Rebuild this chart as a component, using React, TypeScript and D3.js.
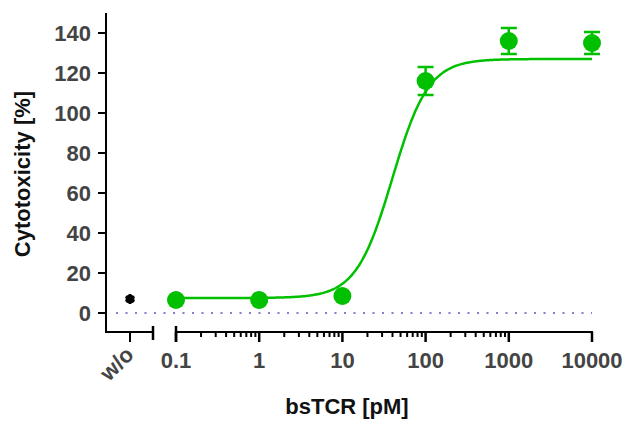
import React, { useRef, useEffect } from 'react';
import * as d3 from 'd3';

const concentrations = [0.1, 1, 10, 100, 1000, 10000];
const cytotoxicity = [6.5, 6.5, 8.5, 116, 136, 135];
const errors = [1, 1, 1, 7, 6.5, 5.5];
const controlLabel = 'w/o';
const controlValue = 7;
const xTickLabels = ['0.1', '1', '10', '100', '1000', '10000'];
const yTicks = [0, 20, 40, 60, 80, 100, 120, 140];

// 4-parameter logistic fit
const fitBottom = 7.5;
const fitTop = 127;
const fitLogEC50 = 1.6;
const fitHill = 2.0;

const W = 626;
const H = 422;
const green = '#00c000';
const textColor = '#444444';

const App = () => {
  const svgRef = useRef<SVGSVGElement>(null);

  useEffect(() => {
    const svg = d3.select(svgRef.current);
    svg.selectAll('*').remove();

    const xScale = d3.scaleLog().domain([0.1, 10000]).range([176, 592]);
    const xCtrl = d3.scalePoint().domain([controlLabel]).range([130, 130]);
    const yScale = d3.scaleLinear().domain([-10, 150]).range([333, 13]);
    const axisY = 332;
    const fontFamily = 'Arial, "Liberation Sans", sans-serif';
    const fontSize = '22px';

    // y axis
    svg.append('line')
      .attr('x1', 106).attr('x2', 106)
      .attr('y1', yScale(150)).attr('y2', axisY + 1)
      .attr('stroke', 'black').attr('stroke-width', 2);

    yTicks.forEach(t => {
      svg.append('line')
        .attr('x1', 98).attr('x2', 106)
        .attr('y1', yScale(t)).attr('y2', yScale(t))
        .attr('stroke', 'black').attr('stroke-width', 2);
      svg.append('text')
        .attr('x', 91).attr('y', yScale(t) + 8)
        .attr('text-anchor', 'end')
        .attr('font-family', fontFamily).attr('font-weight', 'bold')
        .attr('font-size', fontSize).attr('fill', textColor)
        .text(t);
    });

    // x axis: control segment
    svg.append('line')
      .attr('x1', 105).attr('x2', 153)
      .attr('y1', axisY).attr('y2', axisY)
      .attr('stroke', 'black').attr('stroke-width', 2);
    svg.append('line')
      .attr('x1', xCtrl(controlLabel)).attr('x2', xCtrl(controlLabel))
      .attr('y1', axisY).attr('y2', axisY + 10)
      .attr('stroke', 'black').attr('stroke-width', 2);
    svg.append('line')
      .attr('x1', 153).attr('x2', 153)
      .attr('y1', axisY - 6).attr('y2', axisY + 8)
      .attr('stroke', 'black').attr('stroke-width', 2.5);
    svg.append('text')
      .attr('transform', `translate(${xCtrl(controlLabel) + 5},${axisY + 24}) rotate(-45)`)
      .attr('text-anchor', 'end')
      .attr('font-family', fontFamily).attr('font-weight', 'bold')
      .attr('font-size', fontSize).attr('fill', textColor)
      .text(controlLabel);

    // x axis: log segment
    svg.append('line')
      .attr('x1', xScale(0.1)).attr('x2', xScale(10000) + 1)
      .attr('y1', axisY).attr('y2', axisY)
      .attr('stroke', 'black').attr('stroke-width', 2);
    svg.append('line')
      .attr('x1', xScale(0.1)).attr('x2', xScale(0.1))
      .attr('y1', axisY - 6).attr('y2', axisY + 10)
      .attr('stroke', 'black').attr('stroke-width', 2.5);

    const minorTicks: number[] = [];
    for (let d = 0; d < 4; d++) {
      for (let m = 2; m <= 9; m++) minorTicks.push(m * Math.pow(10, d - 1));
    }
    minorTicks.forEach(v => {
      svg.append('line')
        .attr('x1', xScale(v)).attr('x2', xScale(v))
        .attr('y1', axisY).attr('y2', axisY + 5)
        .attr('stroke', 'black').attr('stroke-width', 2);
    });
    concentrations.forEach((c, i) => {
      svg.append('line')
        .attr('x1', xScale(c)).attr('x2', xScale(c))
        .attr('y1', axisY).attr('y2', axisY + 10)
        .attr('stroke', 'black').attr('stroke-width', 2.5);
      svg.append('text')
        .attr('x', xScale(c)).attr('y', axisY + 36)
        .attr('text-anchor', 'middle')
        .attr('font-family', fontFamily).attr('font-weight', 'bold')
        .attr('font-size', fontSize).attr('fill', textColor)
        .text(xTickLabels[i]);
    });

    // dotted zero line
    svg.append('line')
      .attr('x1', 116).attr('x2', xScale(10000))
      .attr('y1', yScale(0)).attr('y2', yScale(0))
      .attr('stroke', '#7f7fcc').attr('stroke-width', 2)
      .attr('stroke-dasharray', '2 7.5');

    // fitted curve
    const fitXs = d3.range(-1, 4.0001, 0.02).map(l => Math.pow(10, l));
    const fit = (c: number) =>
      fitBottom + (fitTop - fitBottom) / (1 + Math.pow(10, (fitLogEC50 - Math.log10(c)) * fitHill));
    const line = d3.line<number>()
      .x(c => xScale(c))
      .y(c => yScale(fit(c)))
      .curve(d3.curveMonotoneX);
    svg.append('path')
      .attr('d', line(fitXs))
      .attr('fill', 'none')
      .attr('stroke', green)
      .attr('stroke-width', 2.5);

    // error bars
    concentrations.forEach((c, i) => {
      const x = xScale(c);
      const yHi = yScale(cytotoxicity[i] + errors[i]);
      const yLo = yScale(cytotoxicity[i] - errors[i]);
      svg.append('line')
        .attr('x1', x).attr('x2', x).attr('y1', yHi).attr('y2', yLo)
        .attr('stroke', green).attr('stroke-width', 2.5);
      [yHi, yLo].forEach(yy => {
        svg.append('line')
          .attr('x1', x - 8).attr('x2', x + 8).attr('y1', yy).attr('y2', yy)
          .attr('stroke', green).attr('stroke-width', 2.5);
      });
    });

    // points
    concentrations.forEach((c, i) => {
      svg.append('circle')
        .attr('cx', xScale(c)).attr('cy', yScale(cytotoxicity[i]))
        .attr('r', 9)
        .attr('fill', green);
    });

    // control point: round blob with spikes
    const ctrl = svg.append('g')
      .attr('transform', `translate(${xCtrl(controlLabel)},${yScale(controlValue)})`);
    ctrl.append('circle').attr('r', 4.5).attr('fill', 'black');
    ctrl.append('path')
      .attr('d', d3.symbol().type(d3.symbolAsterisk).size(70)())
      .attr('fill', 'none').attr('stroke', 'black').attr('stroke-width', 2.5);

    // axis titles
    svg.append('text')
      .attr('transform', `translate(30,174) rotate(-90)`)
      .attr('text-anchor', 'middle')
      .attr('font-family', fontFamily).attr('font-weight', 'bold')
      .attr('font-size', fontSize).attr('fill', '#111')
      .text('Cytotoxicity [%]');
    svg.append('text')
      .attr('x', 347).attr('y', 414)
      .attr('text-anchor', 'middle')
      .attr('font-family', fontFamily).attr('font-weight', 'bold')
      .attr('font-size', fontSize).attr('fill', '#111')
      .text('bsTCR [pM]');
  }, []);

  return (
    <svg ref={svgRef} width={W} height={H}
      style={{ position: 'absolute', left: 0, top: 0, background: '#ffffff' }} />
  );
};

export default App;
